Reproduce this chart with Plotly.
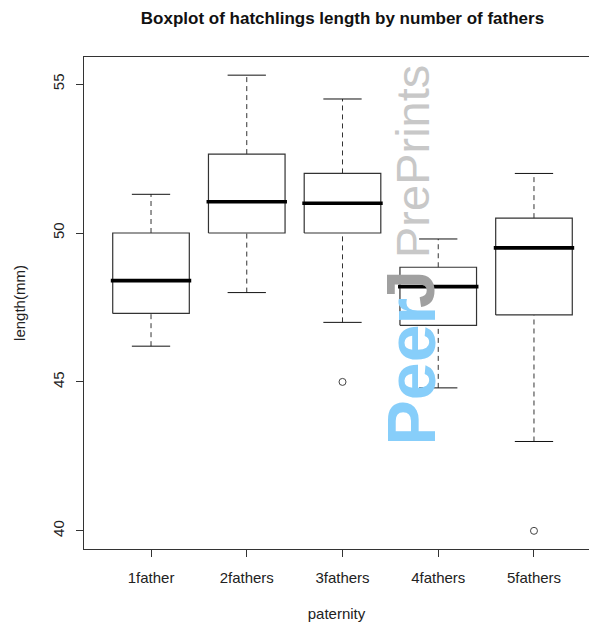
import plotly.graph_objects as go

categories = ["1father", "2fathers", "3fathers", "4fathers", "5fathers"]
lower_whisker = [46.2, 48.0, 47.0, 44.8, 43.0]
q1 = [47.3, 50.0, 50.0, 46.9, 47.25]
median = [48.4, 51.05, 51.0, 48.2, 49.5]
q3 = [50.0, 52.65, 52.0, 48.85, 50.5]
upper_whisker = [51.3, 55.3, 54.5, 49.8, 52.0]
outlier_group = ["3fathers", "5fathers"]
outlier_value = [45.0, 40.0]

y_ticks = [40, 45, 50, 55]

BOX_HALF = 0.4
CAP_HALF = 0.2
LINE_COL = "#333333"

fig = go.Figure()

pos = {c: i + 1 for i, c in enumerate(categories)}

for i, c in enumerate(categories):
    x = pos[c]
    fig.add_trace(go.Scatter(
        x=[x, x, None, x, x],
        y=[lower_whisker[i], q1[i], None, q3[i], upper_whisker[i]],
        mode="lines", line=dict(color=LINE_COL, width=1, dash="5px,4px"),
        hoverinfo="skip", showlegend=False))
    fig.add_trace(go.Scatter(
        x=[x - CAP_HALF, x + CAP_HALF, None, x - CAP_HALF, x + CAP_HALF],
        y=[lower_whisker[i], lower_whisker[i], None, upper_whisker[i], upper_whisker[i]],
        mode="lines", line=dict(color="#111111", width=1),
        hoverinfo="skip", showlegend=False))
    fig.add_trace(go.Scatter(
        x=[x - BOX_HALF, x + BOX_HALF, x + BOX_HALF, x - BOX_HALF, x - BOX_HALF],
        y=[q1[i], q1[i], q3[i], q3[i], q1[i]],
        mode="lines", line=dict(color=LINE_COL, width=1.2),
        hoverinfo="skip", showlegend=False))
    fig.add_trace(go.Scatter(
        x=[x - BOX_HALF - 0.02, x + BOX_HALF + 0.02],
        y=[median[i], median[i]],
        mode="lines", line=dict(color="#000000", width=3.6),
        hoverinfo="skip", showlegend=False))

fig.add_trace(go.Scatter(
    x=[pos[g] for g in outlier_group], y=outlier_value,
    mode="markers",
    marker=dict(symbol="circle-open", size=7, color="#444444", line=dict(width=1)),
    hoverinfo="skip", showlegend=False))

# The page body has an 8px margin: figure coords = page coords - 8.
# Figure sized so that the page fits the 597x630 window without scrollbars.
OFF = 8
W, H = 597 - 2 * OFF, 630 - 2 * OFF
L, T, B = 84 - OFF, 57 - OFF, 549 - OFF
R = W
PX_PER_UNIT = (601 - 84) / 5.4


def px_x(page_x):
    return (page_x - OFF - L) / (R - L)


def px_y(page_y):
    return (B - (page_y - OFF)) / (B - T)


FONT = "Arial, Liberation Sans, sans-serif"

annots = [
    dict(text="<b>Peer</b>", x=px_x(410), y=px_y(372.5), size=68, color="#87CEFA"),
    dict(text="<b>J</b>", x=px_x(410), y=px_y(289), size=68, color="#A0A0A0"),
    dict(text="PrePrints", x=px_x(412.5), y=px_y(161.5), size=47, color="#C8C8C8"),
]
annotations = []
for a in annots:
    annotations.append(dict(
        text=a["text"], x=a["x"], y=a["y"], xref="paper", yref="paper",
        xanchor="center", yanchor="middle", textangle=-90, showarrow=False,
        font=dict(size=a["size"], color=a["color"], family=FONT)))

fig.update_layout(
    width=W, height=H,
    margin=dict(l=L, r=0, t=T, b=H - B, autoexpand=False),
    paper_bgcolor="white", plot_bgcolor="white",
    title=dict(text="<b>Boxplot of hatchlings length by number of fathers</b>",
               x=((84 + 601) / 2 - OFF) / W, xanchor="center",
               y=1 - (18.5 - OFF) / H, yanchor="middle",
               font=dict(size=17, color="#111111", family=FONT)),
    font=dict(family=FONT, color="#222222", size=15),
    annotations=annotations,
    xaxis=dict(
        range=[0.3, 0.3 + (R - L) / PX_PER_UNIT],
        tickmode="array", tickvals=[pos[c] for c in categories], ticktext=categories,
        ticks="outside", ticklen=7, tickcolor=LINE_COL, tickwidth=1,
        showline=True, linecolor=LINE_COL, linewidth=1, mirror=True,
        showgrid=False, zeroline=False,
        tickfont=dict(size=15, color="#222222"),
        ticklabelstandoff=8,
        title=dict(text="paternity", standoff=30, font=dict(size=15, color="#222222")),
    ),
    yaxis=dict(
        range=[39.39, 55.91],
        tickmode="array", tickvals=y_ticks, ticktext=[str(v) for v in y_ticks],
        ticks="outside", ticklen=7, tickcolor=LINE_COL, tickwidth=1,
        tickangle=-90,
        showline=True, linecolor=LINE_COL, linewidth=1, mirror=False,
        showgrid=False, zeroline=False,
        tickfont=dict(size=15, color="#222222"),
        ticklabelstandoff=6,
        title=dict(text="length(mm)", standoff=20, font=dict(size=15, color="#222222")),
    ),
)

fig.write_html("out.html")
